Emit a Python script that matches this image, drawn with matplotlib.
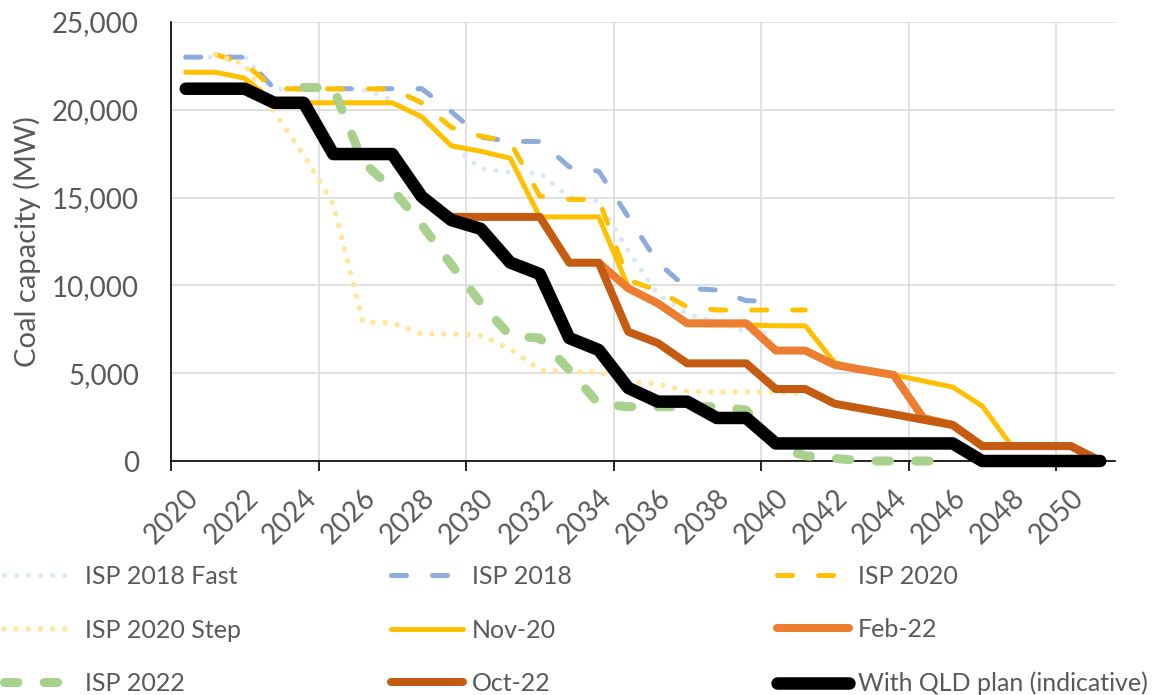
import numpy as np
import matplotlib
matplotlib.use("Agg")
import matplotlib.pyplot as plt

nan = np.nan
years = list(range(2020, 2052))

isp2018_fast = [23000, 23000, 23000, 21200, 21200, 21200, 21150, 20560, 19420, 18050, 16650,
                16420, 16400, 15030, 14800, 11960, 9510, 8370, 7920, 7360, 7290] + [nan] * 11
isp2018 = [23000, 23000, 23000, 21200, 21200, 21200, 21200, 21200, 21200, 19900, 18450,
           18200, 18200, 16750, 16500, 13900, 11300, 9830, 9740, 9130, 9100] + [nan] * 11
isp2020 = [nan, 23150, 22630, 21190, 21190, 21190, 21190, 21190, 20400, 19000, 18500,
           18170, 15090, 14900, 14900, 10300, 9710, 8770, 8600, 8600, 8600, 8600] + [nan] * 10
isp2020_step = [nan, 23150, 22600, 19870, 17430, 14640, 7930, 7860, 7230, 7230, 7150,
                6380, 5180, 5070, 5070, 4480, 4400, 3960, 3930, 3930, 3930, 3800] + [nan] * 10
nov20 = [22140, 22140, 21800, 20400, 20400, 20400, 20400, 20400, 19600, 17950, 17640, 17240,
         13900, 13900, 13900,
         9920, 9000, 7800, 7750, 7750, 7700, 7700,
         5600, 5200, 4900, 4560, 4210, 3130, 850, 850, 850, 0]
feb22 = [nan] * 14 + [11290, 9830, 8980, 7840, 7840, 7840, 6290, 6290, 5470, 5180, 4900,
                      2450, 2050, 850, 850, 850, 850, 0]
isp2022 = [nan] * 4 + [21280, 21240, 17050, 15490, 13440, 11190, 9000, 7120, 7000, 5180, 3250,
                       3090, 3090, 3090, 3090, 2900, 800, 300, 150, 0, 0, 0, 0] + [nan] * 5
oct22 = [nan] * 8 + [15050, 13900, 13900, 13900, 13900, 11290, 11290, 7360, 6720, 5560, 5560,
                     5560, 4100, 4100, 3260, 2960, 2660, 2350, 2050, 850, 850, 850, 850, 0]
qld_plan = [21200, 21200, 21200, 20400, 20400, 17480, 17480, 17480, 15050, 13720,
            13220, 11300, 10650, 7000, 6320, 4160, 3380, 3380, 2450, 2450,
            1000, 1000, 1000, 1000, 1000, 1000, 1000, 0, 0, 0, 0, 0]

x_tick_labels = [str(y) for y in range(2020, 2051, 2)]
y_ticks = [0, 5000, 10000, 15000, 20000, 25000]

labels = ["ISP 2018 Fast", "ISP 2018", "ISP 2020", "ISP 2020 Step", "Nov-20",
          "Feb-22", "ISP 2022", "Oct-22", "With QLD plan (indicative)"]

plt.rcParams['font.family'] = ['Lato', 'DejaVu Sans']
TXT = '#595959'

fig = plt.figure(figsize=(11.57, 6.95), dpi=100)
W, H = 1157, 695
ax = fig.add_axes([171 / W, 1 - 461 / H, (1115 - 171) / W, (461 - 22) / H])

px = 0.72  # points per pixel
styles = [
    dict(data=isp2018_fast, color='#DAE8F5', lw=5 * px, dashes=(0.01, 2.4)),
    dict(data=isp2018, color='#8FAADC', lw=5 * px, dashes=(3, 5.2)),
    dict(data=isp2020, color='#FFC000', lw=5 * px, dashes=(3, 5.2)),
    dict(data=isp2020_step, color='#FFE699', lw=5.5 * px, dashes=(0.01, 2.2)),
    dict(data=nov20, color='#FFC000', lw=5 * px, dashes=None),
    dict(data=feb22, color='#ED7D31', lw=8 * px, dashes=None),
    dict(data=isp2022, color='#A9D18E', lw=9 * px, dashes=(1.5, 2.9)),
    dict(data=oct22, color='#C55A11', lw=8 * px, dashes=None),
    dict(data=qld_plan, color='#000000', lw=12.5 * px, dashes=None),
]

handles = []
for st, lab in zip(styles, labels):
    kw = dict(color=st['color'], lw=st['lw'], solid_capstyle='round', dash_capstyle='round',
              solid_joinstyle='round', dash_joinstyle='round', clip_on=False, zorder=3)
    if st['dashes'] is not None:
        kw['dashes'] = st['dashes']
    ln, = ax.plot(years, st['data'], label=lab, **kw)
    handles.append(ln)

ax.set_xlim(2019.5, 2051.5)
ax.set_ylim(0, 25000)

# x axis: tick marks / gridlines every 5 categories, labels every 2 years
ax.set_xticks([2019.5 + 5 * i for i in range(7)])
ax.set_xticklabels([])
ax.set_xticks(list(range(2020, 2051, 2)), minor=True)
ax.set_xticklabels(x_tick_labels, minor=True, rotation=45, ha='right', va='top',
                   rotation_mode='anchor', fontsize=20, color=TXT)
ax.tick_params(axis='x', which='major', length=7, width=1.2, direction='out', color='black')
ax.tick_params(axis='x', which='minor', length=0, pad=17)

ax.set_yticks(y_ticks)
ax.set_yticklabels([f"{v:,}" for v in y_ticks], fontsize=20, color=TXT)
ax.tick_params(axis='y', length=0, pad=23)

ax.grid(True, which='major', color='#D9D9D9', lw=1.1, zorder=0)
ax.set_axisbelow(True)
for s in ['top', 'right']:
    ax.spines[s].set_visible(False)
for s in ['left', 'bottom']:
    ax.spines[s].set_color('black')
    ax.spines[s].set_linewidth(1.2)
    ax.spines[s].set_zorder(2)

ax.set_ylabel("Coal capacity (MW)", fontsize=21, color=TXT, labelpad=8)

# legend: three columns, row-major order like the reference
fs = 18
fs_px = fs / px
cols = [[0, 3, 6], [1, 4, 7], [2, 5, 8]]
col_x = [4, 391, 777]
for cx, idx in zip(col_x, cols):
    leg = fig.legend([handles[i] for i in idx], [labels[i] for i in idx],
                     loc='center left', bbox_to_anchor=(cx / W, 1 - 630 / H),
                     frameon=False, fontsize=fs, labelcolor=TXT,
                     handlelength=72 / fs_px, handletextpad=9 / fs_px,
                     labelspacing=1.22, borderpad=0, borderaxespad=0)

fig.savefig("out.png", dpi=100)
